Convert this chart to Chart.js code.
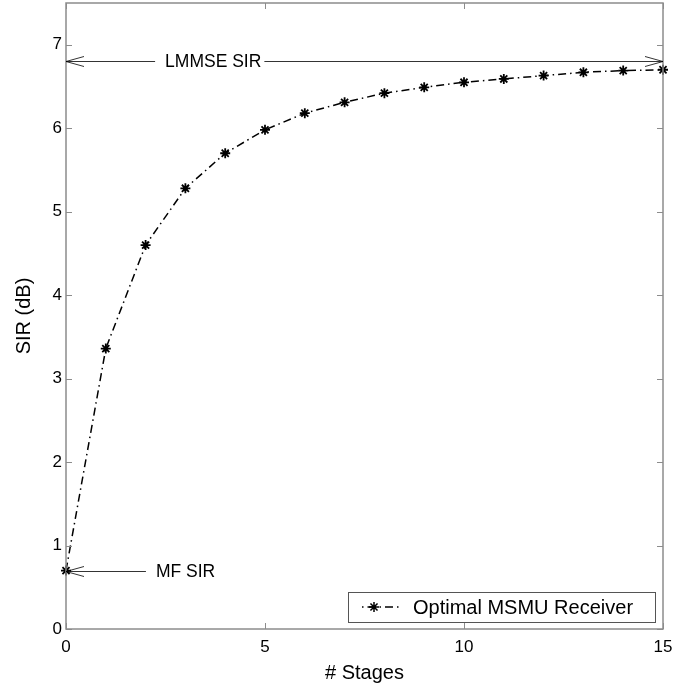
<!DOCTYPE html>
<html>
<head>
<meta charset="utf-8">
<script src="https://cdn.jsdelivr.net/npm/chart.js@4/dist/chart.umd.min.js"></script>
<style>
  html, body { margin: 0; padding: 0; background: #fff; }
  #wrap { width: 694px; height: 689px; }
</style>
</head>
<body>
<div id="wrap"><canvas id="sirChart" width="694" height="689"></canvas></div>
<script>
// Number of stages and the SIR reached at each one
const stages = [0, 1, 2, 3, 4, 5, 6, 7, 8, 9, 10, 11, 12, 13, 14, 15];
const sirValues = [0.70, 3.36, 4.60, 5.28, 5.70, 5.98, 6.18, 6.31, 6.42, 6.49, 6.55, 6.59, 6.63, 6.67, 6.69, 6.70];
const seriesLabel = 'Optimal MSMU Receiver';

// Tick labels
const xTicks = [0, 5, 10, 15];
const yTicks = [0, 1, 2, 3, 4, 5, 6, 7];

// Reference levels drawn as arrows
const refNames = ['LMMSE SIR', 'MF SIR'];
const refLevels = [6.81, 0.70];

const FONT = '"Liberation Sans", Arial, Helvetica, sans-serif';
const AXIS_GREY = '#8c8c8c';

// Open arrowhead pointing to (x, y), going left (dir=-1) or right (dir=1)
function arrowHead(ctx, x, y, dir) {
    ctx.beginPath();
    ctx.moveTo(x - dir * 18, y - 5);
    ctx.lineTo(x, y);
    ctx.lineTo(x - dir * 18, y + 5);
    ctx.stroke();
}

//----DRAWS THE MATLAB STYLE FRAME, INWARD TICKS, ARROWS & LEGEND----
const matlabLook = {
    id: 'matlabLook',
    afterDraw(chart) {
        const ctx = chart.ctx;
        const area = chart.chartArea;
        const xs = chart.scales.x;
        const ys = chart.scales.y;
        ctx.save();

        // Frame
        ctx.strokeStyle = AXIS_GREY;
        ctx.lineWidth = 1.5;
        ctx.strokeRect(area.left, area.top, area.right - area.left, area.bottom - area.top);

        // Inward ticks on all four sides
        ctx.lineWidth = 1;
        ctx.beginPath();
        xTicks.forEach(v => {
            const px = Math.round(xs.getPixelForValue(v)) + 0.5;
            ctx.moveTo(px, area.bottom); ctx.lineTo(px, area.bottom - 6);
            ctx.moveTo(px, area.top); ctx.lineTo(px, area.top + 6);
        });
        yTicks.forEach(v => {
            const py = Math.round(ys.getPixelForValue(v)) + 0.5;
            ctx.moveTo(area.left, py); ctx.lineTo(area.left + 6, py);
            ctx.moveTo(area.right, py); ctx.lineTo(area.right - 6, py);
        });
        ctx.stroke();

        // Reference arrows with their labels
        ctx.strokeStyle = '#000';
        ctx.fillStyle = '#000';
        ctx.lineWidth = 0.8;
        ctx.font = '17.5px ' + FONT;
        ctx.textBaseline = 'middle';
        ctx.textAlign = 'left';

        // LMMSE: arrows both ways, label in the middle of the line
        const yL = Math.round(ys.getPixelForValue(refLevels[0])) + 0.5;
        const x0 = xs.getPixelForValue(stages[0]);
        const x15 = xs.getPixelForValue(stages[stages.length - 1]);
        const textL = xs.getPixelForValue(2.49);
        const wL = ctx.measureText(refNames[0]).width;
        ctx.beginPath();
        ctx.moveTo(x0, yL); ctx.lineTo(textL - 10, yL);
        ctx.moveTo(textL + wL + 3, yL); ctx.lineTo(x15, yL);
        ctx.stroke();
        arrowHead(ctx, x0, yL, -1);
        arrowHead(ctx, x15, yL, 1);
        ctx.fillText(refNames[0], textL, yL + 1);

        // MF: arrow pointing left at the first point
        const yM = Math.round(ys.getPixelForValue(refLevels[1])) + 0.5;
        const textM = xs.getPixelForValue(2.26);
        ctx.beginPath();
        ctx.moveTo(x0, yM); ctx.lineTo(textM - 10, yM);
        ctx.stroke();
        arrowHead(ctx, x0, yM, -1);
        ctx.fillText(refNames[1], textM, yM + 1);

        // Legend box in the lower right corner
        const bx = 348, by = 592, bw = 307, bh = 30;
        ctx.lineWidth = 1;
        ctx.strokeStyle = '#555';
        ctx.fillStyle = '#fff';
        ctx.fillRect(bx, by, bw, bh);
        ctx.strokeRect(bx + 0.5, by + 0.5, bw, bh);
        const ly = by + bh / 2;
        ctx.strokeStyle = '#000';
        ctx.lineWidth = 1.5;
        ctx.setLineDash([8, 4, 1.5, 4]);
        ctx.lineDashOffset = 10;
        ctx.beginPath();
        ctx.moveTo(bx + 12, ly); ctx.lineTo(bx + 52, ly);
        ctx.stroke();
        ctx.setLineDash([]);
        const sx = bx + 26, r = 5;
        ctx.beginPath();
        for (let a = 0; a < 4; a++) {
            const ang = a * Math.PI / 4;
            ctx.moveTo(sx - r * Math.cos(ang), ly - r * Math.sin(ang));
            ctx.lineTo(sx + r * Math.cos(ang), ly + r * Math.sin(ang));
        }
        ctx.stroke();
        ctx.fillStyle = '#000';
        ctx.font = '20px ' + FONT;
        ctx.fillText(seriesLabel, bx + 65, ly + 1);

        ctx.restore();
    }
};

const sirChart = new Chart(document.getElementById('sirChart').getContext('2d'), {
    type: 'scatter',
    data: {
        datasets: [{
            label: seriesLabel,
            data: stages.map((s, i) => ({ x: s, y: sirValues[i] })),
            showLine: true,
            borderColor: '#000',
            backgroundColor: '#000',
            borderWidth: 1.5,
            borderDash: [8, 4, 1.5, 4],
            pointStyle: 'star',
            pointRadius: 5,
            pointBorderWidth: 1.8,
            pointBorderColor: '#000',
            clip: false
        }]
    },
    options: {
        responsive: false,
        animation: false,
        events: [],
        layout: { autoPadding: false, padding: { left: 0, top: 3, right: 31, bottom: 0 } },
        plugins: {
            legend: { display: false },
            tooltip: { enabled: false }
        },
        scales: {
            x: {
                type: 'linear',
                min: 0,
                max: 15,
                afterBuildTicks: scale => { scale.ticks = xTicks.map(v => ({ value: v })); },
                afterFit: scale => { scale.height = 60; scale.paddingLeft = 0; scale.paddingRight = 0; },
                border: { display: false },
                grid: { display: false, drawTicks: false },
                ticks: { color: '#000', font: { size: 17, family: FONT }, padding: 8, maxRotation: 0 },
                title: { display: true, text: '# Stages', color: '#000', font: { size: 20, family: FONT }, padding: { top: 4 } }
            },
            y: {
                type: 'linear',
                min: 0,
                max: 7.5,
                afterBuildTicks: scale => { scale.ticks = yTicks.map(v => ({ value: v })); },
                afterFit: scale => { scale.width = 66; scale.paddingTop = 0; scale.paddingBottom = 0; },
                border: { display: false },
                grid: { display: false, drawTicks: false },
                ticks: { color: '#000', font: { size: 17, family: FONT }, padding: 4 },
                title: { display: true, text: 'SIR (dB)', color: '#000', font: { size: 20, family: FONT }, padding: { top: 12, bottom: 4 } }
            }
        }
    },
    plugins: [matlabLook]
});
</script>
</body>
</html>
